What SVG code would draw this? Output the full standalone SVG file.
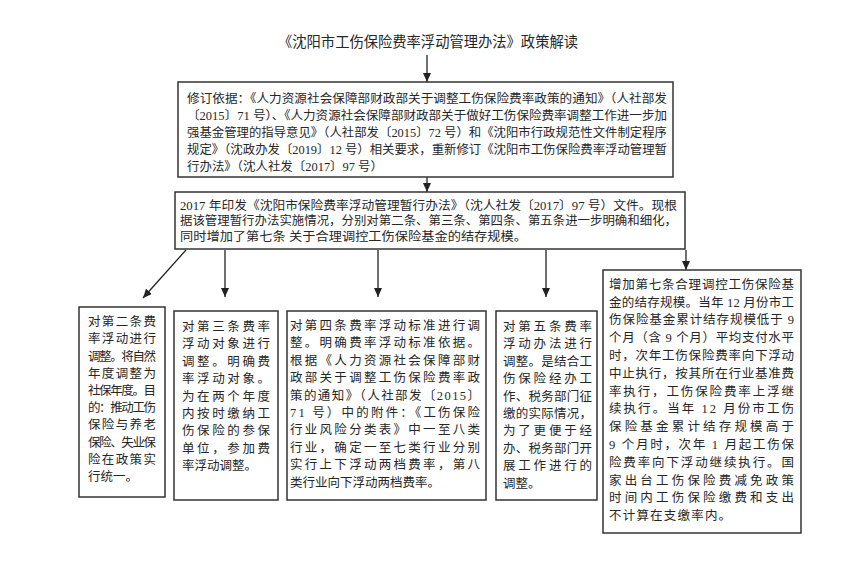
<svg xmlns="http://www.w3.org/2000/svg" width="854" height="570" viewBox="0 0 854 570">
<style>
text{font-family:"Liberation Serif","Noto Sans CJK SC",sans-serif;fill:#262626}
.t{font-size:14.5px}
.a{font-size:12px}
.b{font-size:12.5px}
.box{fill:#fff;stroke:#333;stroke-width:1.5}
.ln{stroke:#222;stroke-width:1.3;fill:none}
</style>
<defs>
<marker id="ah" markerUnits="userSpaceOnUse" markerWidth="9" markerHeight="8" viewBox="0 0 9 8" refX="9" refY="4" orient="auto">
<path d="M0,0 L9,4 L0,8 Z" fill="#222"/>
</marker>
</defs>
<rect width="854" height="570" fill="#fff"/>
<g id="title">
<text class="t" x="278" y="47" textLength="300" lengthAdjust="spacingAndGlyphs">《沈阳市工伤保险费率浮动管理办法》政策解读</text>
</g>
<g id="connectors">
<line class="ln" x1="427" y1="55" x2="427" y2="82" marker-end="url(#ah)"/>
<line class="ln" x1="427" y1="177" x2="427" y2="192" marker-end="url(#ah)"/>
<line class="ln" x1="186" y1="250" x2="143" y2="298" marker-end="url(#ah)"/>
<line class="ln" x1="225" y1="250" x2="225" y2="297" marker-end="url(#ah)"/>
<line class="ln" x1="378" y1="250" x2="378" y2="297" marker-end="url(#ah)"/>
<line class="ln" x1="546" y1="250" x2="546" y2="297" marker-end="url(#ah)"/>
<line class="ln" x1="686" y1="250" x2="686" y2="270" marker-end="url(#ah)"/>
</g>
<g id="basis">
<rect class="box" x="178" y="82" width="495" height="95"/>
<text class="a" x="187" y="102.5" textLength="480" lengthAdjust="spacingAndGlyphs">修订依据：《人力资源社会保障部财政部关于调整工伤保险费率政策的通知》（人社部发</text>
<text class="a" x="187" y="119.5" textLength="480" lengthAdjust="spacingAndGlyphs">〔2015〕71 号）、《人力资源社会保障部财政部关于做好工伤保险费率调整工作进一步加</text>
<text class="a" x="187" y="136.5" textLength="480" lengthAdjust="spacingAndGlyphs">强基金管理的指导意见》（人社部发〔2015〕72 号）和《沈阳市行政规范性文件制定程序</text>
<text class="a" x="187" y="153.5" textLength="480" lengthAdjust="spacingAndGlyphs">规定》（沈政办发〔2019〕12 号）相关要求，重新修订《沈阳市工伤保险费率浮动管理暂</text>
<text class="a" x="187" y="170.5" textLength="196" lengthAdjust="spacingAndGlyphs">行办法》（沈人社发〔2017〕97 号）</text>
</g>
<g id="issued">
<rect class="box" x="175" y="192" width="510" height="57"/>
<text class="a" x="180" y="209.5" textLength="497" lengthAdjust="spacingAndGlyphs">2017 年印发《沈阳市保险费率浮动管理暂行办法》（沈人社发〔2017〕97 号）文件。现根</text>
<text class="a" x="180" y="225" textLength="497" lengthAdjust="spacingAndGlyphs">据该管理暂行办法实施情况，分别对第二条、第三条、第四条、第五条进一步明确和细化，</text>
<text class="a" x="180" y="240.5" textLength="347" lengthAdjust="spacingAndGlyphs">同时增加了第七条 关于合理调控工伤保险基金的结存规模。</text>
</g>
<g id="art2">
<rect class="box" x="79" y="307" width="86" height="190"/>
<text class="b" x="88" y="326" textLength="68">对第二条费</text>
<text class="b" x="88" y="343" textLength="68">率浮动进行</text>
<text class="b" x="88" y="360.5" textLength="68">调整。将自然</text>
<text class="b" x="88" y="377.5" textLength="68">年度调整为</text>
<text class="b" x="88" y="395" textLength="68">社保年度。目</text>
<text class="b" x="88" y="412" textLength="68">的：推动工伤</text>
<text class="b" x="88" y="429" textLength="68">保险与养老</text>
<text class="b" x="88" y="446.5" textLength="68">保险、失业保</text>
<text class="b" x="88" y="463.5" textLength="68">险在政策实</text>
<text class="b" x="88" y="481">行统一。</text>
</g>
<g id="art3">
<rect class="box" x="174" y="311" width="104" height="189"/>
<text class="b" x="182" y="331" textLength="88">对第三条费率</text>
<text class="b" x="182" y="348.4" textLength="88">浮动对象进行</text>
<text class="b" x="182" y="365.8" textLength="88">调整。明确费</text>
<text class="b" x="182" y="383.2" textLength="88">率浮动对象。</text>
<text class="b" x="182" y="400.6" textLength="88">为在两个年度</text>
<text class="b" x="182" y="418" textLength="88">内按时缴纳工</text>
<text class="b" x="182" y="435.4" textLength="88">伤保险的参保</text>
<text class="b" x="182" y="452.8" textLength="88">单位，参加费</text>
<text class="b" x="182" y="470.2">率浮动调整。</text>
</g>
<g id="art4">
<rect class="box" x="287" y="311" width="199" height="189"/>
<text class="b" x="290" y="330" textLength="190">对第四条费率浮动标准进行调</text>
<text class="b" x="290" y="347.4" textLength="190">整。明确费率浮动标准依据。</text>
<text class="b" x="290" y="364.8" textLength="190">根据《人力资源社会保障部财</text>
<text class="b" x="290" y="382.2" textLength="190">政部关于调整工伤保险费率政</text>
<text class="b" x="290" y="399.6" textLength="190">策的通知》（人社部发〔2015〕</text>
<text class="b" x="290" y="417" textLength="190">71 号）中的附件：《工伤保险</text>
<text class="b" x="290" y="434.4" textLength="190">行业风险分类表》中一至八类</text>
<text class="b" x="290" y="451.8" textLength="190">行业，确定一至七类行业分别</text>
<text class="b" x="290" y="469.2" textLength="190">实行上下浮动两档费率，第八</text>
<text class="b" x="290" y="486.6">类行业向下浮动两档费率。</text>
</g>
<g id="art5">
<rect class="box" x="496" y="311" width="101" height="189"/>
<text class="b" x="503" y="331" textLength="89">对第五条费率</text>
<text class="b" x="503" y="348.4" textLength="89">浮动办法进行</text>
<text class="b" x="503" y="365.8" textLength="89">调整。是结合工</text>
<text class="b" x="503" y="383.2" textLength="89">伤保险经办工</text>
<text class="b" x="503" y="400.6" textLength="89">作、税务部门征</text>
<text class="b" x="503" y="418" textLength="89">缴的实际情况，</text>
<text class="b" x="503" y="435.4" textLength="89">为了更便于经</text>
<text class="b" x="503" y="452.8" textLength="89">办、税务部门开</text>
<text class="b" x="503" y="470.2" textLength="89">展工作进行的</text>
<text class="b" x="503" y="487.6">调整。</text>
</g>
<g id="art7">
<rect class="box" x="603" y="270" width="198" height="263"/>
<text class="b" x="609" y="288.7" textLength="185">增加第七条合理调控工伤保险基</text>
<text class="b" x="609" y="306.5" textLength="185">金的结存规模。当年 12 月份市工</text>
<text class="b" x="609" y="324.3" textLength="185">伤保险基金累计结存规模低于 9</text>
<text class="b" x="609" y="342.1" textLength="185">个月（含 9 个月）平均支付水平</text>
<text class="b" x="609" y="359.9" textLength="185">时，次年工伤保险费率向下浮动</text>
<text class="b" x="609" y="377.7" textLength="185">中止执行，按其所在行业基准费</text>
<text class="b" x="609" y="395.5" textLength="185">率执行，工伤保险费率上浮继</text>
<text class="b" x="609" y="413.3" textLength="185">续执行。当年 12 月份市工伤</text>
<text class="b" x="609" y="431.1" textLength="185">保险基金累计结存规模高于</text>
<text class="b" x="609" y="448.9" textLength="185">9 个月时，次年 1 月起工伤保</text>
<text class="b" x="609" y="466.7" textLength="185">险费率向下浮动继续执行。国</text>
<text class="b" x="609" y="484.5" textLength="185">家出台工伤保险费减免政策</text>
<text class="b" x="609" y="502.3" textLength="185">时间内工伤保险缴费和支出</text>
<text class="b" x="609" y="520.1" letter-spacing="1.2">不计算在支缴率内。</text>
</g>
</svg>
